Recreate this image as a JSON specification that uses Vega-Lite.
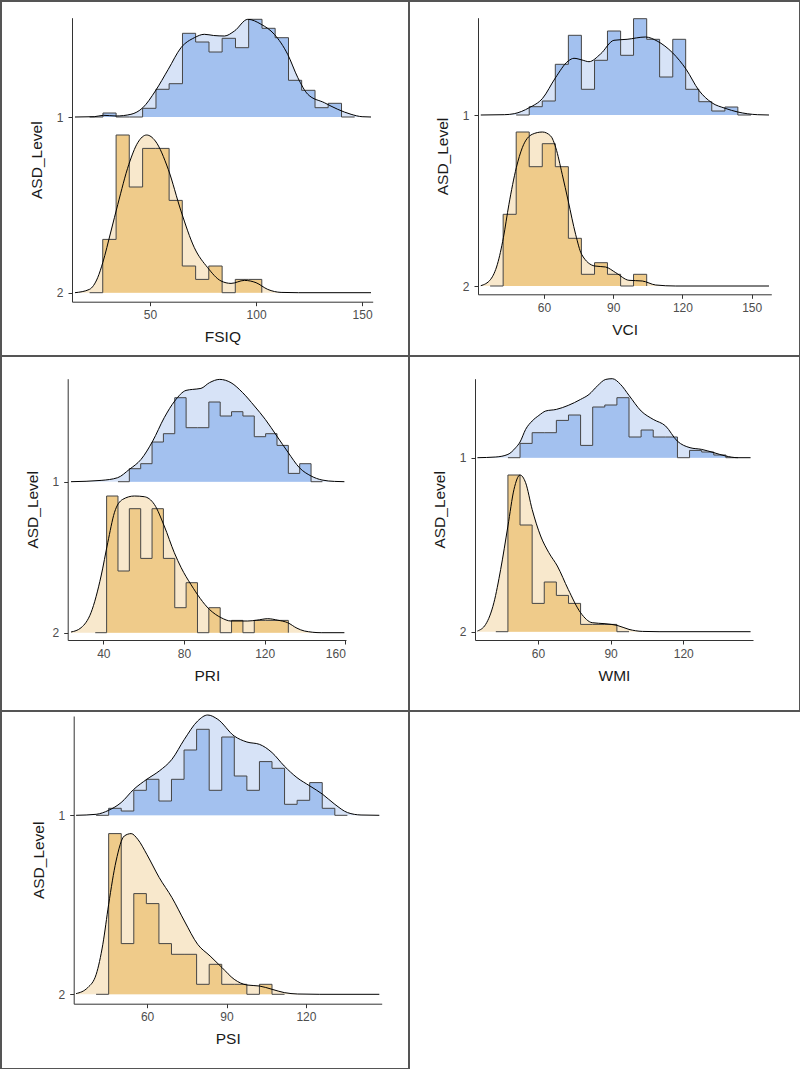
{
  "$schema": "https://vega.github.io/schema/vega-lite/v6.json",
  "padding": 0,
  "columns": 2,
  "spacing": 0,
  "bounds": "flush",
  "config": {
    "font": "Liberation Sans",
    "view": {"stroke": "#555555", "strokeWidth": 2},
    "concat": {"spacing": 0},
    "axis": {"grid": false, "domainColor": "#333333", "domainWidth": 1, "tickColor": "#333333", "tickSize": 4, "tickWidth": 1, "labelColor": "#4d4d4d", "labelFontSize": 12, "labelPadding": 4, "titleFontSize": 15.5, "titleFontWeight": "normal", "titleColor": "#1a1a1a", "titlePadding": 9, "format": "d"},
    "axisY": {"labelPadding": 5, "titlePadding": 12},
    "style": {"guide-title": {"fontSize": 15.5, "fontWeight": "normal", "fill": "#1a1a1a"}, "guide-label": {"fontSize": 12, "fill": "#4d4d4d"}}
  },
  "datasets": {
    "levels": [{"ASD_Level": 1}, {"ASD_Level": 2}],
    "FSIQ_h1": [{"v":21.5,"h":0},{"v":27.8,"h":0.04},{"v":34.0,"h":0},{"v":40.3,"h":0},{"v":46.5,"h":0.087},{"v":52.8,"h":0.277},{"v":59.0,"h":0.333},{"v":65.3,"h":0.837},{"v":71.5,"h":0.75},{"v":77.8,"h":0.65},{"v":84.0,"h":0.787},{"v":90.3,"h":0.693},{"v":96.5,"h":0.977},{"v":102.8,"h":0.887},{"v":109.0,"h":0.793},{"v":115.3,"h":0.367},{"v":121.5,"h":0.267},{"v":127.8,"h":0.093},{"v":134.0,"h":0.137},{"v":140.3,"h":0},{"v":146.5,"h":0}],
    "FSIQ_d1": [{"v":14.6,"h":0},{"v":23.7,"h":0.003},{"v":28,"h":0.017},{"v":34,"h":0.01},{"v":41,"h":0.027},{"v":46.6,"h":0.093},{"v":52.5,"h":0.26},{"v":58.6,"h":0.477},{"v":64.6,"h":0.693},{"v":70.9,"h":0.793},{"v":75.6,"h":0.827},{"v":80,"h":0.815},{"v":85.1,"h":0.81},{"v":89.8,"h":0.86},{"v":96.1,"h":0.977},{"v":102.4,"h":0.927},{"v":108.6,"h":0.827},{"v":114.9,"h":0.627},{"v":119.7,"h":0.393},{"v":124.4,"h":0.227},{"v":132.2,"h":0.143},{"v":138.5,"h":0.077},{"v":144.8,"h":0.027},{"v":150,"h":0.003},{"v":154.2,"h":0}],
    "FSIQ_h2": [{"v":21.5,"h":0},{"v":27.7,"h":0.533},{"v":34.0,"h":1.577},{"v":40.2,"h":1.057},{"v":46.5,"h":1.443},{"v":52.7,"h":1.443},{"v":59.0,"h":0.923},{"v":65.2,"h":0.267},{"v":71.5,"h":0.133},{"v":77.7,"h":0.267},{"v":84.0,"h":0},{"v":90.2,"h":0.133},{"v":96.5,"h":0.133},{"v":102.7,"h":0}],
    "FSIQ_d2": [{"v":14.6,"h":0},{"v":21.4,"h":0.033},{"v":25.3,"h":0.15},{"v":27.7,"h":0.3},{"v":31.6,"h":0.617},{"v":34.8,"h":0.883},{"v":40,"h":1.283},{"v":44.2,"h":1.5},{"v":48.4,"h":1.577},{"v":52.5,"h":1.517},{"v":58.6,"h":1.233},{"v":64.6,"h":0.817},{"v":70.9,"h":0.45},{"v":77.2,"h":0.25},{"v":83.5,"h":0.117},{"v":88.2,"h":0.093},{"v":94.5,"h":0.123},{"v":100,"h":0.1},{"v":105.5,"h":0.033},{"v":111.8,"h":0.003},{"v":120,"h":0},{"v":154.2,"h":0}],
    "VCI_h1": [{"v":47.95,"h":0},{"v":53.6,"h":0.083},{"v":59.25,"h":0.14},{"v":64.9,"h":0.507},{"v":70.56,"h":0.797},{"v":76.2,"h":0.257},{"v":81.9,"h":0.547},{"v":87.5,"h":0.84},{"v":93.2,"h":0.597},{"v":98.8,"h":0.963},{"v":104.5,"h":0.757},{"v":110.1,"h":0.38},{"v":115.8,"h":0.757},{"v":121.4,"h":0.257},{"v":127.1,"h":0.133},{"v":132.7,"h":0.04},{"v":138.4,"h":0.08},{"v":144.0,"h":0},{"v":149.7,"h":0}],
    "VCI_d1": [{"v":32.6,"h":0},{"v":42.8,"h":0.003},{"v":47.1,"h":0.013},{"v":53.6,"h":0.073},{"v":59.4,"h":0.167},{"v":64.9,"h":0.37},{"v":70.5,"h":0.54},{"v":73,"h":0.567},{"v":76.5,"h":0.55},{"v":79.5,"h":0.533},{"v":84.5,"h":0.61},{"v":90.3,"h":0.747},{"v":96,"h":0.757},{"v":104,"h":0.78},{"v":109,"h":0.74},{"v":115.8,"h":0.62},{"v":121.6,"h":0.457},{"v":127.1,"h":0.247},{"v":132.7,"h":0.123},{"v":138.5,"h":0.067},{"v":144,"h":0.03},{"v":152.5,"h":0.003},{"v":157.5,"h":0}],
    "VCI_h2": [{"v":36.65,"h":0},{"v":42.3,"h":0.717},{"v":47.95,"h":1.54},{"v":53.6,"h":1.193},{"v":59.25,"h":1.423},{"v":64.9,"h":1.193},{"v":70.56,"h":0.477},{"v":76.2,"h":0.117},{"v":81.9,"h":0.233},{"v":87.5,"h":0.117},{"v":93.2,"h":0},{"v":98.8,"h":0.117},{"v":104.5,"h":0}],
    "VCI_d2": [{"v":32.6,"h":0.003},{"v":36.9,"h":0.067},{"v":39.8,"h":0.217},{"v":42.4,"h":0.483},{"v":44.8,"h":0.817},{"v":48,"h":1.183},{"v":50.6,"h":1.383},{"v":54.9,"h":1.517},{"v":59.3,"h":1.54},{"v":62.9,"h":1.5},{"v":65.1,"h":1.383},{"v":67.9,"h":1.117},{"v":70.5,"h":0.85},{"v":73.7,"h":0.517},{"v":76.3,"h":0.317},{"v":82,"h":0.2},{"v":86.7,"h":0.19},{"v":91.1,"h":0.133},{"v":96.8,"h":0.057},{"v":102.6,"h":0.05},{"v":108.4,"h":0.01},{"v":117.1,"h":0},{"v":157.5,"h":0}],
    "PRI_h1": [{"v":47.27,"h":0},{"v":52.9,"h":0.13},{"v":58.53,"h":0.18},{"v":64.16,"h":0.397},{"v":69.79,"h":0.48},{"v":75.42,"h":0.84},{"v":81.05,"h":0.54},{"v":86.68,"h":0.54},{"v":92.31,"h":0.797},{"v":97.94,"h":0.657},{"v":103.57,"h":0.7},{"v":109.2,"h":0.657},{"v":114.83,"h":0.45},{"v":120.46,"h":0.48},{"v":126.09,"h":0.363},{"v":131.72,"h":0.083},{"v":137.35,"h":0.18},{"v":142.98,"h":0},{"v":148.61,"h":0}],
    "PRI_d1": [{"v":24,"h":0},{"v":38.9,"h":0.013},{"v":47.1,"h":0.04},{"v":52.9,"h":0.123},{"v":58.7,"h":0.223},{"v":64.5,"h":0.407},{"v":70.2,"h":0.64},{"v":75.4,"h":0.807},{"v":81,"h":0.913},{"v":84.3,"h":0.923},{"v":88.4,"h":0.933},{"v":92.6,"h":0.99},{"v":97.7,"h":1.023},{"v":103.3,"h":0.99},{"v":109.1,"h":0.89},{"v":114.9,"h":0.757},{"v":120.3,"h":0.623},{"v":126,"h":0.457},{"v":131.7,"h":0.29},{"v":137.2,"h":0.14},{"v":143,"h":0.057},{"v":148.4,"h":0.017},{"v":154.6,"h":0.003},{"v":159.5,"h":0}],
    "PRI_h2": [{"v":36.01,"h":0},{"v":41.64,"h":1.367},{"v":47.27,"h":0.617},{"v":52.9,"h":1.24},{"v":58.53,"h":0.743},{"v":64.16,"h":1.24},{"v":69.79,"h":0.743},{"v":75.42,"h":0.25},{"v":81.05,"h":0.5},{"v":86.68,"h":0},{"v":92.31,"h":0.25},{"v":97.94,"h":0},{"v":103.57,"h":0.123},{"v":109.2,"h":0},{"v":114.83,"h":0.123},{"v":120.46,"h":0.123},{"v":126.09,"h":0.123},{"v":131.72,"h":0}],
    "PRI_d2": [{"v":24,"h":0.007},{"v":29,"h":0.05},{"v":33.9,"h":0.2},{"v":38.9,"h":0.567},{"v":42.2,"h":0.9},{"v":45.5,"h":1.2},{"v":49.6,"h":1.333},{"v":55.4,"h":1.367},{"v":60.3,"h":1.36},{"v":65.3,"h":1.283},{"v":70.2,"h":1.067},{"v":75.2,"h":0.8},{"v":78.6,"h":0.65},{"v":83.5,"h":0.48},{"v":92.6,"h":0.233},{"v":98.4,"h":0.15},{"v":103.3,"h":0.117},{"v":111.6,"h":0.117},{"v":116,"h":0.125},{"v":121.5,"h":0.14},{"v":126.5,"h":0.125},{"v":131.4,"h":0.1},{"v":136,"h":0.045},{"v":139.7,"h":0.017},{"v":148,"h":0},{"v":159.5,"h":0}],
    "WMI_h1": [{"v":47.6,"h":0},{"v":52.6,"h":0.143},{"v":57.6,"h":0.25},{"v":62.6,"h":0.25},{"v":67.6,"h":0.373},{"v":72.6,"h":0.427},{"v":77.6,"h":0.123},{"v":82.6,"h":0.507},{"v":87.6,"h":0.527},{"v":92.6,"h":0.6},{"v":97.6,"h":0.207},{"v":102.6,"h":0.277},{"v":107.6,"h":0.207},{"v":112.6,"h":0.207},{"v":117.6,"h":0},{"v":122.6,"h":0.073},{"v":127.6,"h":0.057},{"v":132.6,"h":0.027},{"v":137.6,"h":0},{"v":142.6,"h":0}],
    "WMI_d1": [{"v":35,"h":0},{"v":42.6,"h":0.007},{"v":47.6,"h":0.033},{"v":50.8,"h":0.1},{"v":52.6,"h":0.157},{"v":54.9,"h":0.283},{"v":57.6,"h":0.367},{"v":60.4,"h":0.423},{"v":63.2,"h":0.467},{"v":67.6,"h":0.483},{"v":72.5,"h":0.523},{"v":77.6,"h":0.583},{"v":81.1,"h":0.633},{"v":84.5,"h":0.717},{"v":88,"h":0.783},{"v":90.7,"h":0.79},{"v":94.1,"h":0.733},{"v":97.6,"h":0.623},{"v":102.6,"h":0.467},{"v":107.6,"h":0.383},{"v":112.7,"h":0.317},{"v":117.5,"h":0.167},{"v":122.8,"h":0.1},{"v":127.6,"h":0.083},{"v":132.7,"h":0.05},{"v":137.5,"h":0.017},{"v":142.6,"h":0},{"v":147.8,"h":0}],
    "WMI_h2": [{"v":42.6,"h":0},{"v":47.6,"h":1.567},{"v":52.6,"h":1.067},{"v":57.6,"h":0.283},{"v":62.6,"h":0.497},{"v":67.6,"h":0.363},{"v":72.6,"h":0.283},{"v":77.6,"h":0.073},{"v":82.6,"h":0.073},{"v":87.6,"h":0.073},{"v":92.6,"h":0},{"v":97.6,"h":0}],
    "WMI_d2": [{"v":35,"h":0.007},{"v":38.4,"h":0.073},{"v":41.8,"h":0.29},{"v":44.6,"h":0.623},{"v":47.6,"h":1.057},{"v":50.1,"h":1.423},{"v":52.6,"h":1.567},{"v":54.9,"h":1.49},{"v":57.6,"h":1.223},{"v":61.1,"h":0.957},{"v":64.5,"h":0.79},{"v":68,"h":0.657},{"v":72.5,"h":0.423},{"v":77.6,"h":0.19},{"v":82.4,"h":0.09},{"v":87.7,"h":0.08},{"v":92.7,"h":0.063},{"v":97.6,"h":0.023},{"v":103.1,"h":0.003},{"v":110,"h":0},{"v":147.8,"h":0}],
    "PSI_h1": [{"v":40.76,"h":0},{"v":45.5,"h":0.07},{"v":50.25,"h":0.043},{"v":54.99,"h":0.25},{"v":59.73,"h":0.36},{"v":64.48,"h":0.143},{"v":69.22,"h":0.36},{"v":73.97,"h":0.653},{"v":78.71,"h":0.86},{"v":83.46,"h":0.25},{"v":88.2,"h":0.783},{"v":92.94,"h":0.393},{"v":97.69,"h":0.25},{"v":102.43,"h":0.537},{"v":107.18,"h":0.47},{"v":111.92,"h":0.11},{"v":116.66,"h":0.15},{"v":121.41,"h":0.327},{"v":126.15,"h":0.07},{"v":130.9,"h":0},{"v":135.64,"h":0}],
    "PSI_d1": [{"v":33.2,"h":0},{"v":40.8,"h":0.01},{"v":45.5,"h":0.05},{"v":50.2,"h":0.127},{"v":55,"h":0.26},{"v":59.9,"h":0.36},{"v":64.6,"h":0.443},{"v":69.4,"h":0.56},{"v":74.1,"h":0.76},{"v":79.1,"h":0.943},{"v":82.9,"h":1.003},{"v":86.7,"h":0.96},{"v":92.9,"h":0.793},{"v":97.7,"h":0.733},{"v":102.4,"h":0.71},{"v":107.2,"h":0.627},{"v":111.8,"h":0.493},{"v":116.6,"h":0.377},{"v":121.5,"h":0.293},{"v":126.3,"h":0.21},{"v":130.9,"h":0.11},{"v":135.7,"h":0.027},{"v":140.8,"h":0.003},{"v":147.7,"h":0}],
    "PSI_h2": [{"v":40.76,"h":0},{"v":45.5,"h":1.607},{"v":50.25,"h":0.507},{"v":54.99,"h":1.007},{"v":59.73,"h":0.907},{"v":64.48,"h":0.507},{"v":69.22,"h":0.4},{"v":73.97,"h":0.4},{"v":78.71,"h":0.1},{"v":83.46,"h":0.3},{"v":88.2,"h":0.1},{"v":92.94,"h":0.1},{"v":97.69,"h":0},{"v":102.43,"h":0.1},{"v":107.18,"h":0},{"v":111.92,"h":0}],
    "PSI_d2": [{"v":33.2,"h":0.007},{"v":37.6,"h":0.067},{"v":40.8,"h":0.2},{"v":43.3,"h":0.5},{"v":45.5,"h":0.9},{"v":48.3,"h":1.333},{"v":51.4,"h":1.583},{"v":54,"h":1.607},{"v":56.5,"h":1.55},{"v":59.9,"h":1.4},{"v":64.6,"h":1.167},{"v":69.4,"h":0.967},{"v":74.1,"h":0.733},{"v":79.1,"h":0.5},{"v":83.8,"h":0.383},{"v":88.3,"h":0.267},{"v":92.9,"h":0.15},{"v":97.7,"h":0.093},{"v":102.4,"h":0.083},{"v":107.2,"h":0.05},{"v":111.8,"h":0.017},{"v":116.9,"h":0.003},{"v":125,"h":0},{"v":147.7,"h":0}]
  },
  "concat": [
    {
      "width": 408, "height": 355,
      "resolve": {"scale": {"y": "independent"}},
      "layer": [
        {"data": {"name": "levels"}, "mark": {"type": "point", "opacity": 0},
         "encoding": {"y": {"field": "ASD_Level", "type": "quantitative", "scale": {"domain": [0.4348, 2.0512], "range": [16.7, 300.7], "nice": false, "zero": false}, "axis": {"title": "ASD_Level", "values": [1, 2], "offset": -71, "titleFontSize": 15.5, "titleFontWeight": "normal", "labelFontSize": 12}}}},
        {"encoding": {
           "x": {"field": "v", "type": "quantitative", "scale": {"domain": [13.2, 155], "range": [71, 371.7], "nice": false, "zero": false}, "axis": {"title": "FSIQ", "values": [50, 100, 150], "offset": -54.3, "titleFontSize": 15.5, "titleFontWeight": "normal", "labelFontSize": 12}},
           "y": {"field": "h", "type": "quantitative", "scale": {"domain": [0, 1], "range": [116, 16], "nice": false, "zero": false}, "axis": null}},
         "layer": [
           {"data": {"name": "FSIQ_d1"}, "mark": {"type": "area", "interpolate": "monotone", "color": "#d7e3f7"}, "encoding": {"y2": {"datum": 0}}},
           {"data": {"name": "FSIQ_h1"}, "mark": {"type": "area", "interpolate": "step-after", "color": "#a3c1ef"}, "encoding": {"y2": {"datum": 0}}},
           {"data": {"name": "FSIQ_h1"}, "mark": {"type": "line", "interpolate": "step-after", "color": "#454545", "strokeWidth": 1}},
           {"data": {"name": "FSIQ_d1"}, "mark": {"type": "line", "interpolate": "monotone", "color": "#000000", "strokeWidth": 1}}
         ]},
        {"encoding": {
           "x": {"field": "v", "type": "quantitative", "scale": {"domain": [13.2, 155], "range": [71, 371.7], "nice": false, "zero": false}, "axis": {"title": "FSIQ", "values": [50, 100, 150], "offset": -54.3, "titleFontSize": 15.5, "titleFontWeight": "normal", "labelFontSize": 12}},
           "y": {"field": "h", "type": "quantitative", "scale": {"domain": [0, 1], "range": [291.7, 191.7], "nice": false, "zero": false}, "axis": null}},
         "layer": [
           {"data": {"name": "FSIQ_d2"}, "mark": {"type": "area", "interpolate": "monotone", "color": "#f8e8cc"}, "encoding": {"y2": {"datum": 0}}},
           {"data": {"name": "FSIQ_h2"}, "mark": {"type": "area", "interpolate": "step-after", "color": "#efcb8a"}, "encoding": {"y2": {"datum": 0}}},
           {"data": {"name": "FSIQ_h2"}, "mark": {"type": "line", "interpolate": "step-after", "color": "#454545", "strokeWidth": 1}},
           {"data": {"name": "FSIQ_d2"}, "mark": {"type": "line", "interpolate": "monotone", "color": "#000000", "strokeWidth": 1}}
         ]}
      ]
    },
    {
      "width": 391, "height": 355,
      "resolve": {"scale": {"y": "independent"}},
      "layer": [
        {"data": {"name": "levels"}, "mark": {"type": "point", "opacity": 0},
         "encoding": {"y": {"field": "ASD_Level", "type": "quantitative", "scale": {"domain": [0.431, 2.0485], "range": [16.7, 293.3], "nice": false, "zero": false}, "axis": {"title": "ASD_Level", "values": [1, 2], "offset": -69, "titleFontSize": 15.5, "titleFontWeight": "normal", "labelFontSize": 12}}}},
        {"encoding": {
           "x": {"field": "v", "type": "quantitative", "scale": {"domain": [31.4, 158.5], "range": [69, 362.3], "nice": false, "zero": false}, "axis": {"title": "VCI", "values": [60, 90, 120, 150], "offset": -61.7, "titleFontSize": 15.5, "titleFontWeight": "normal", "labelFontSize": 12}},
           "y": {"field": "h", "type": "quantitative", "scale": {"domain": [0, 1], "range": [114, 14], "nice": false, "zero": false}, "axis": null}},
         "layer": [
           {"data": {"name": "VCI_d1"}, "mark": {"type": "area", "interpolate": "monotone", "color": "#d7e3f7"}, "encoding": {"y2": {"datum": 0}}},
           {"data": {"name": "VCI_h1"}, "mark": {"type": "area", "interpolate": "step-after", "color": "#a3c1ef"}, "encoding": {"y2": {"datum": 0}}},
           {"data": {"name": "VCI_h1"}, "mark": {"type": "line", "interpolate": "step-after", "color": "#454545", "strokeWidth": 1}},
           {"data": {"name": "VCI_d1"}, "mark": {"type": "line", "interpolate": "monotone", "color": "#000000", "strokeWidth": 1}}
         ]},
        {"encoding": {
           "x": {"field": "v", "type": "quantitative", "scale": {"domain": [31.4, 158.5], "range": [69, 362.3], "nice": false, "zero": false}, "axis": {"title": "VCI", "values": [60, 90, 120, 150], "offset": -61.7, "titleFontSize": 15.5, "titleFontWeight": "normal", "labelFontSize": 12}},
           "y": {"field": "h", "type": "quantitative", "scale": {"domain": [0, 1], "range": [285, 185], "nice": false, "zero": false}, "axis": null}},
         "layer": [
           {"data": {"name": "VCI_d2"}, "mark": {"type": "area", "interpolate": "monotone", "color": "#f8e8cc"}, "encoding": {"y2": {"datum": 0}}},
           {"data": {"name": "VCI_h2"}, "mark": {"type": "area", "interpolate": "step-after", "color": "#efcb8a"}, "encoding": {"y2": {"datum": 0}}},
           {"data": {"name": "VCI_h2"}, "mark": {"type": "line", "interpolate": "step-after", "color": "#454545", "strokeWidth": 1}},
           {"data": {"name": "VCI_d2"}, "mark": {"type": "line", "interpolate": "monotone", "color": "#000000", "strokeWidth": 1}}
         ]}
      ]
    },
    {
      "width": 408, "height": 355,
      "resolve": {"scale": {"y": "independent"}},
      "layer": [
        {"data": {"name": "levels"}, "mark": {"type": "point", "opacity": 0},
         "encoding": {"y": {"field": "ASD_Level", "type": "quantitative", "scale": {"domain": [0.318, 2.0485], "range": [22.7, 284], "nice": false, "zero": false}, "axis": {"title": "ASD_Level", "values": [1, 2], "offset": -66.7, "titleFontSize": 15.5, "titleFontWeight": "normal", "labelFontSize": 12}}}},
        {"encoding": {
           "x": {"field": "v", "type": "quantitative", "scale": {"domain": [22.35, 160.3], "range": [66.7, 345], "nice": false, "zero": false}, "axis": {"title": "PRI", "values": [40, 80, 120, 160], "offset": -71, "titleFontSize": 15.5, "titleFontWeight": "normal", "labelFontSize": 12}},
           "y": {"field": "h", "type": "quantitative", "scale": {"domain": [0, 1], "range": [125.7, 25.7], "nice": false, "zero": false}, "axis": null}},
         "layer": [
           {"data": {"name": "PRI_d1"}, "mark": {"type": "area", "interpolate": "monotone", "color": "#d7e3f7"}, "encoding": {"y2": {"datum": 0}}},
           {"data": {"name": "PRI_h1"}, "mark": {"type": "area", "interpolate": "step-after", "color": "#a3c1ef"}, "encoding": {"y2": {"datum": 0}}},
           {"data": {"name": "PRI_h1"}, "mark": {"type": "line", "interpolate": "step-after", "color": "#454545", "strokeWidth": 1}},
           {"data": {"name": "PRI_d1"}, "mark": {"type": "line", "interpolate": "monotone", "color": "#000000", "strokeWidth": 1}}
         ]},
        {"encoding": {
           "x": {"field": "v", "type": "quantitative", "scale": {"domain": [22.35, 160.3], "range": [66.7, 345], "nice": false, "zero": false}, "axis": {"title": "PRI", "values": [40, 80, 120, 160], "offset": -71, "titleFontSize": 15.5, "titleFontWeight": "normal", "labelFontSize": 12}},
           "y": {"field": "h", "type": "quantitative", "scale": {"domain": [0, 1], "range": [276.7, 176.7], "nice": false, "zero": false}, "axis": null}},
         "layer": [
           {"data": {"name": "PRI_d2"}, "mark": {"type": "area", "interpolate": "monotone", "color": "#f8e8cc"}, "encoding": {"y2": {"datum": 0}}},
           {"data": {"name": "PRI_h2"}, "mark": {"type": "area", "interpolate": "step-after", "color": "#efcb8a"}, "encoding": {"y2": {"datum": 0}}},
           {"data": {"name": "PRI_h2"}, "mark": {"type": "line", "interpolate": "step-after", "color": "#454545", "strokeWidth": 1}},
           {"data": {"name": "PRI_d2"}, "mark": {"type": "line", "interpolate": "monotone", "color": "#000000", "strokeWidth": 1}}
         ]}
      ]
    },
    {
      "width": 391, "height": 355,
      "resolve": {"scale": {"y": "independent"}},
      "layer": [
        {"data": {"name": "levels"}, "mark": {"type": "point", "opacity": 0},
         "encoding": {"y": {"field": "ASD_Level", "type": "quantitative", "scale": {"domain": [0.546, 2.0477], "range": [22.7, 284], "nice": false, "zero": false}, "axis": {"title": "ASD_Level", "values": [1, 2], "offset": -66, "titleFontSize": 15.5, "titleFontWeight": "normal", "labelFontSize": 12}}}},
        {"encoding": {
           "x": {"field": "v", "type": "quantitative", "scale": {"domain": [34.0, 148.8], "range": [66, 344], "nice": false, "zero": false}, "axis": {"title": "WMI", "values": [60, 90, 120], "offset": -71, "titleFontSize": 15.5, "titleFontWeight": "normal", "labelFontSize": 12}},
           "y": {"field": "h", "type": "quantitative", "scale": {"domain": [0, 1], "range": [101.7, 1.7], "nice": false, "zero": false}, "axis": null}},
         "layer": [
           {"data": {"name": "WMI_d1"}, "mark": {"type": "area", "interpolate": "monotone", "color": "#d7e3f7"}, "encoding": {"y2": {"datum": 0}}},
           {"data": {"name": "WMI_h1"}, "mark": {"type": "area", "interpolate": "step-after", "color": "#a3c1ef"}, "encoding": {"y2": {"datum": 0}}},
           {"data": {"name": "WMI_h1"}, "mark": {"type": "line", "interpolate": "step-after", "color": "#454545", "strokeWidth": 1}},
           {"data": {"name": "WMI_d1"}, "mark": {"type": "line", "interpolate": "monotone", "color": "#000000", "strokeWidth": 1}}
         ]},
        {"encoding": {
           "x": {"field": "v", "type": "quantitative", "scale": {"domain": [34.0, 148.8], "range": [66, 344], "nice": false, "zero": false}, "axis": {"title": "WMI", "values": [60, 90, 120], "offset": -71, "titleFontSize": 15.5, "titleFontWeight": "normal", "labelFontSize": 12}},
           "y": {"field": "h", "type": "quantitative", "scale": {"domain": [0, 1], "range": [275.7, 175.7], "nice": false, "zero": false}, "axis": null}},
         "layer": [
           {"data": {"name": "WMI_d2"}, "mark": {"type": "area", "interpolate": "monotone", "color": "#f8e8cc"}, "encoding": {"y2": {"datum": 0}}},
           {"data": {"name": "WMI_h2"}, "mark": {"type": "area", "interpolate": "step-after", "color": "#efcb8a"}, "encoding": {"y2": {"datum": 0}}},
           {"data": {"name": "WMI_h2"}, "mark": {"type": "line", "interpolate": "step-after", "color": "#454545", "strokeWidth": 1}},
           {"data": {"name": "WMI_d2"}, "mark": {"type": "line", "interpolate": "monotone", "color": "#000000", "strokeWidth": 1}}
         ]}
      ]
    },
    {
      "width": 408, "height": 358,
      "resolve": {"scale": {"y": "independent"}},
      "layer": [
        {"data": {"name": "levels"}, "mark": {"type": "point", "opacity": 0},
         "encoding": {"y": {"field": "ASD_Level", "type": "quantitative", "scale": {"domain": [0.4453, 2.0526], "range": [5, 292.7], "nice": false, "zero": false}, "axis": {"title": "ASD_Level", "values": [1, 2], "offset": -72.7, "titleFontSize": 15.5, "titleFontWeight": "normal", "labelFontSize": 12}}}},
        {"encoding": {
           "x": {"field": "v", "type": "quantitative", "scale": {"domain": [32.3, 148.6], "range": [72.7, 380.7], "nice": false, "zero": false}, "axis": {"title": "PSI", "values": [60, 90, 120], "offset": -65.3, "titleFontSize": 15.5, "titleFontWeight": "normal", "labelFontSize": 12}},
           "y": {"field": "h", "type": "quantitative", "scale": {"domain": [0, 1], "range": [104.3, 4.3], "nice": false, "zero": false}, "axis": null}},
         "layer": [
           {"data": {"name": "PSI_d1"}, "mark": {"type": "area", "interpolate": "monotone", "color": "#d7e3f7"}, "encoding": {"y2": {"datum": 0}}},
           {"data": {"name": "PSI_h1"}, "mark": {"type": "area", "interpolate": "step-after", "color": "#a3c1ef"}, "encoding": {"y2": {"datum": 0}}},
           {"data": {"name": "PSI_h1"}, "mark": {"type": "line", "interpolate": "step-after", "color": "#454545", "strokeWidth": 1}},
           {"data": {"name": "PSI_d1"}, "mark": {"type": "line", "interpolate": "monotone", "color": "#000000", "strokeWidth": 1}}
         ]},
        {"encoding": {
           "x": {"field": "v", "type": "quantitative", "scale": {"domain": [32.3, 148.6], "range": [72.7, 380.7], "nice": false, "zero": false}, "axis": {"title": "PSI", "values": [60, 90, 120], "offset": -65.3, "titleFontSize": 15.5, "titleFontWeight": "normal", "labelFontSize": 12}},
           "y": {"field": "h", "type": "quantitative", "scale": {"domain": [0, 1], "range": [283.3, 183.3], "nice": false, "zero": false}, "axis": null}},
         "layer": [
           {"data": {"name": "PSI_d2"}, "mark": {"type": "area", "interpolate": "monotone", "color": "#f8e8cc"}, "encoding": {"y2": {"datum": 0}}},
           {"data": {"name": "PSI_h2"}, "mark": {"type": "area", "interpolate": "step-after", "color": "#efcb8a"}, "encoding": {"y2": {"datum": 0}}},
           {"data": {"name": "PSI_h2"}, "mark": {"type": "line", "interpolate": "step-after", "color": "#454545", "strokeWidth": 1}},
           {"data": {"name": "PSI_d2"}, "mark": {"type": "line", "interpolate": "monotone", "color": "#000000", "strokeWidth": 1}}
         ]}
      ]
    },
    {
      "width": 391, "height": 358,
      "data": {"name": "levels"},
      "mark": {"type": "point", "opacity": 0},
      "encoding": {}
    }
  ]
}
